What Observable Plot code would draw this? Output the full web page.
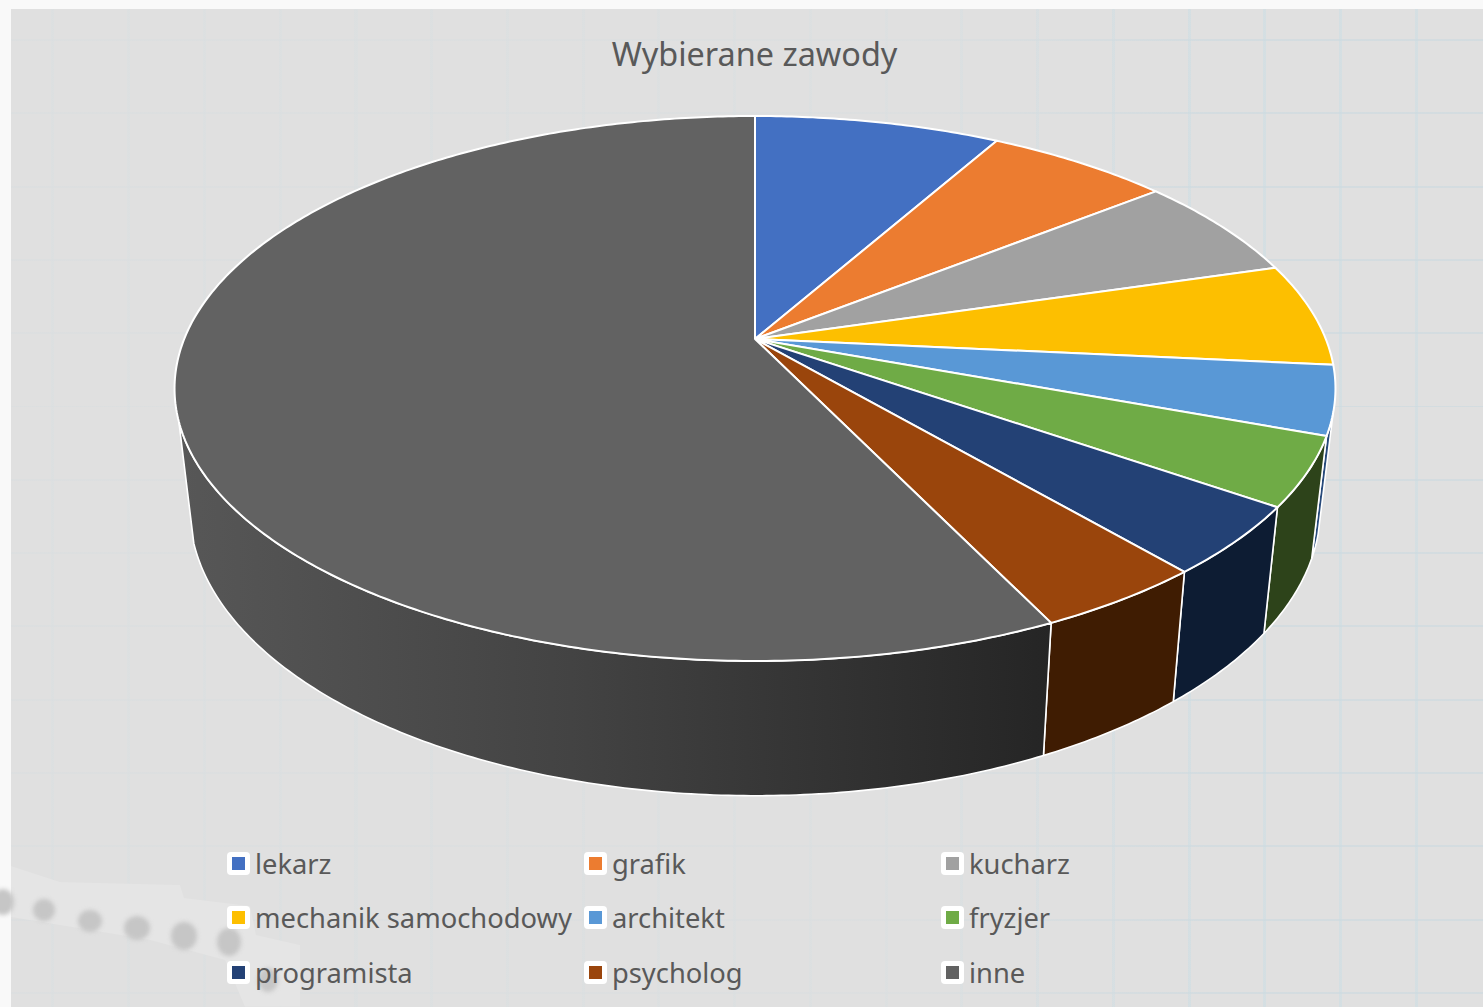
<!DOCTYPE html>
<html lang="pl">
<head>
<meta charset="utf-8">
<title>Wybierane zawody</title>
<script src="https://cdn.jsdelivr.net/npm/d3@7"></script>
<script src="https://cdn.jsdelivr.net/npm/@observablehq/plot@0.6"></script>
<style>
  html, body { margin: 0; padding: 0; background: #f9f9f9; }
  #page { position: relative; width: 1483px; height: 1007px; overflow: hidden;
          font-family: "Noto Sans", sans-serif; color: #595959; }
  #paper { position: absolute; left: 11px; top: 9px; right: 0; bottom: 0; background: #e0e0e0; }
  .gridlines { position: absolute; left: 11px; top: 9px; right: 0; bottom: 0; }
  #vgrid { background-image: repeating-linear-gradient(90deg, transparent 0 40.5px, rgba(205,222,228,.6) 40.5px 43.5px, transparent 43.5px 75.75px); }
  #hgrid { background-image: repeating-linear-gradient(180deg, transparent 0 30px, rgba(205,218,224,.65) 30px 32px, transparent 32px 73.3px); }
  #fade { position:absolute; left:11px; top:9px; width:1200px; height:998px;
          background: linear-gradient(90deg, rgba(224,224,224,.7), rgba(224,224,224,.7) 75%, rgba(224,224,224,0)); }
  #strip { position: absolute; left: 0; top: 0; width: 320px; height: 1007px; background: #e5e5e5; filter: blur(1.5px);
           clip-path: polygon(11px 866px, 60px 882px, 180px 885px, 184px 898px, 250px 906px, 256px 935px, 300px 945px, 300px 1007px, 245px 1007px, 225px 960px, 150px 940px, 90px 930px, 11px 917px); }
  .blob { position: absolute; border-radius: 50%; background: #c6c6c6; filter: blur(2px); }
  #title { position: relative; height: 95px; box-sizing: border-box; padding-top: 31px; text-align: center;
           font-size: 32.4px; line-height: 44px; width: 1509px; }
  #pie { position: relative; display: block; line-height: 0; }
  #legend { position: relative; display: grid; grid-template-columns: repeat(3, 357px); grid-auto-rows: 54.5px;
            padding-left: 227px; font-size: 27.3px; }
  .item { display: flex; align-items: center; white-space: nowrap; }
  .key { width: 23px; height: 23px; margin-right: 5px; background: #fff; border-radius: 4px; display: flex;
         align-items: center; justify-content: center; flex: none; }
  .key i { display: block; width: 13px; height: 13px; }
</style>
</head>
<body>
<div id="page">
  <div id="paper"></div>
  <div class="gridlines" id="vgrid"></div>
  <div class="gridlines" id="hgrid"></div>
  <div id="fade"></div>
  <div id="strip"></div>
  <div id="title"></div>
  <div id="pie"></div>
  <div id="legend"></div>
</div>
<script>
// Data
const chartTitle = "Wybierane zawody";
const professions = ["lekarz", "grafik", "kucharz", "mechanik samochodowy", "architekt", "fryzjer", "programista", "psycholog", "inne"];
const counts = [8, 6, 6, 6, 4, 4, 4, 4, 56];

// Styles
const topColors = ["#4370c2", "#ec7c30", "#a1a1a1", "#fdbf00", "#5998d6", "#6fab46", "#234175", "#9a450c", "#626262"];
const wallColors = [null, null, null, null, "#27497a", "#2d431a", "#0d1c33", "#3f1c02", "url(#wall-inne)"];

// Perspective geometry of the tilted disc (pixels)
const W = 1483, H = 741;
const apexX = 754.5, apexY = 243.5;      // centre of the pie inside the SVG
const topRx = 570.8, topRy = 263.5, persp = 0.1817;
const depthScaleX = 556 / topRx, depthScaleY = 278 / topRy, depthOffset = -117 / topRy; // lower rim relative to upper rim
const wallFrom = 105.5, wallTo = 252.7;  // silhouette bearings (degrees clockwise from the top)

// rim point at a bearing (radians clockwise from top), in unit-disc coordinates
const rim = (a) => {
  const k = 1 + persp * Math.cos(a);
  return {x: Math.sin(a) / k, y: Math.cos(a) / k};
};
const low = (p) => ({x: p.x * depthScaleX, y: p.y * depthScaleY + depthOffset});
const arc = (a0, a1) => {
  const n = Math.max(2, Math.ceil(Math.abs(a1 - a0) * 90));
  return d3.range(n + 1).map((i) => rim(a0 + (a1 - a0) * i / n));
};

const total = d3.sum(counts);
const cum = d3.cumsum(counts);
const bounds = professions.map((name, i) => ({
  name, i,
  a0: (i ? cum[i - 1] : 0) / total * 2 * Math.PI,
  a1: cum[i] / total * 2 * Math.PI
}));

const lo = wallFrom * Math.PI / 180, hi = wallTo * Math.PI / 180;
const topPolys = bounds.map((b) => [{x: 0, y: 0}, ...arc(b.a0, b.a1), {x: 0, y: 0}]);
const wallPolys = bounds.map((b) => {
  const a0 = Math.max(b.a0, lo), a1 = Math.min(b.a1, hi);
  if (a1 <= a0) return null;
  const upper = arc(a0, a1);
  return [...upper, ...upper.slice().reverse().map(low), upper[0]];
});

const poly = (pts, fill, sw) => Plot.line(pts, {x: "x", y: "y", fill, stroke: "#fff", strokeWidth: sw, strokeLinejoin: "round", curve: "linear"});

const defs = () => {
  const d = d3.create("svg:defs");
  const g = d.append("linearGradient").attr("id", "wall-inne").attr("x1", 0).attr("x2", 1).attr("y1", 0).attr("y2", 0);
  [[0, "#575757"], [0.45, "#434343"], [1, "#252525"]].forEach(([o, c]) => g.append("stop").attr("offset", o).attr("stop-color", c));
  return d.node();
};

const chart = Plot.plot({
  width: W, height: H, margin: 0,
  style: {background: "transparent", overflow: "visible"},
  x: {domain: [-apexX / topRx, (W - apexX) / topRx], range: [0, W], axis: null},
  y: {domain: [apexY / topRy, (apexY - H) / topRy], range: [0, H], axis: null},
  marks: [
    defs,
    ...wallPolys.map((p, i) => p ? poly(p, wallColors[i], 1.6) : null).filter(Boolean),
    ...topPolys.map((p, i) => poly(p, topColors[i], 2))
  ]
});
document.getElementById("pie").append(chart);
document.getElementById("title").textContent = chartTitle;

const legend = d3.select("#legend");
professions.forEach((name, i) => {
  const it = legend.append("div").attr("class", "item");
  it.append("span").attr("class", "key").append("i").style("background", topColors[i]);
  it.append("span").text(name);
});

// Background marks on the paper (decorative)
[[3,902,11,13],[44,910,11,11],[90,921,12,11],[137,928,13,12],[184,936,13,14],[229,942,12,14],[268,980,10,12]].forEach(([x,y,rx,ry]) => {
  const b = document.createElement("div");
  b.className = "blob";
  b.style.cssText = `left:${x-rx}px;top:${y-ry}px;width:${2*rx}px;height:${2*ry}px;`;
  document.getElementById("page").insertBefore(b, document.getElementById("title"));
});
</script>
</body>
</html>
